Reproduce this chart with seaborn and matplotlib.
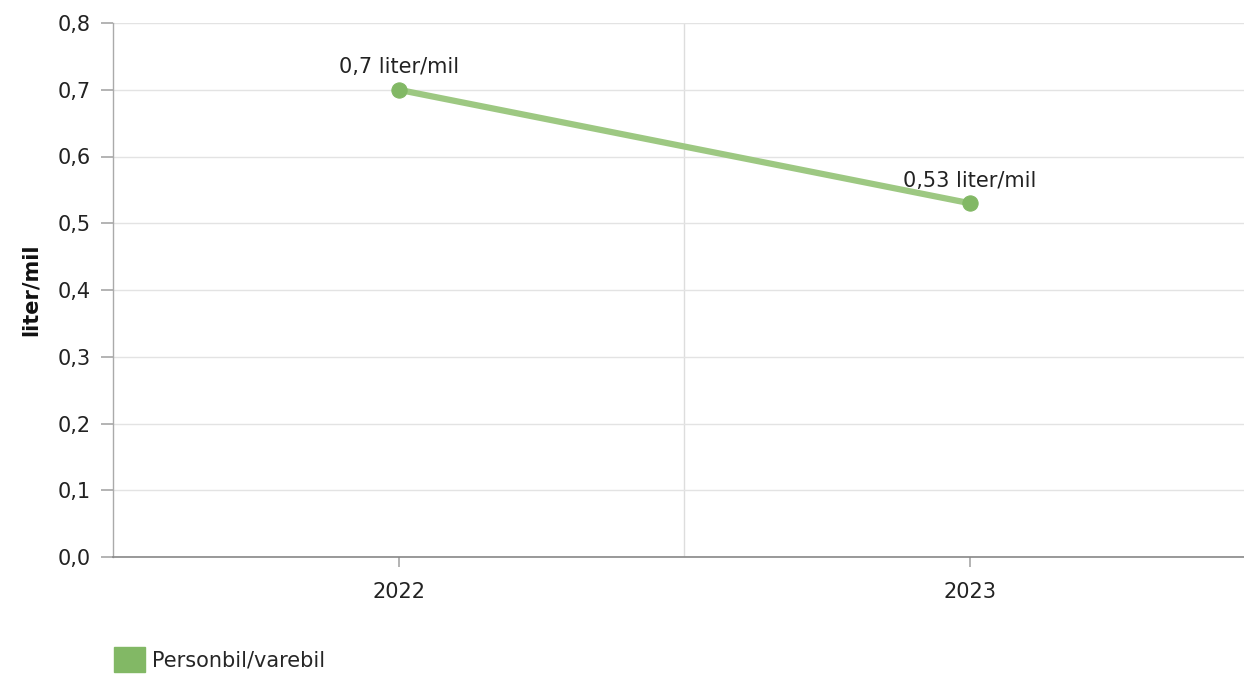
import matplotlib
matplotlib.use("Agg")
import matplotlib.pyplot as plt
import matplotlib.patches as mpatches
import seaborn as sns
import pandas as pd

years = ["2022", "2023"]
values = [0.70, 0.53]
labels = ["0,7 liter/mil", "0,53 liter/mil"]
series_name = "Personbil/varebil"
yticks = [0.0, 0.1, 0.2, 0.3, 0.4, 0.5, 0.6, 0.7, 0.8]

sns.set_theme(style="white")
plt.rcParams['font.family'] = ['DejaVu Sans']
plt.rcParams['font.sans-serif'] = ['DejaVu Sans']

df = pd.DataFrame({"year": years, "value": values, "x": list(range(len(years)))})

fig = plt.figure(figsize=(12.44, 6.75), dpi=100)
ax = fig.add_axes([113/1244, 1-557/675, 1131/1244, 534/675])

FS = 15
line_col = "#9dc882"
mark_col = "#82b865"
sns.lineplot(data=df, x="x", y="value", ax=ax, color=line_col, linewidth=4.5,
             marker="o", markersize=11, markerfacecolor=mark_col,
             markeredgecolor=mark_col, zorder=3)

for i, (v, t) in enumerate(zip(values, labels)):
    ax.annotate(t, (i, v), xytext=(0, 9), textcoords="offset points",
                ha="center", va="bottom", fontsize=FS, color="#222222",
                family="DejaVu Sans")

ax.set_xlim(-0.5, 1.48)
ax.set_ylim(0, 0.8)
ax.set_yticks(yticks)
ax.set_yticklabels([f"{t:.1f}".replace(".", ",") for t in yticks])
ax.set_xticks(range(len(years)))
ax.set_xticklabels(years)
ax.set_xticks([0.5], minor=True)

ax.grid(axis="y", color="#e3e3e3", linewidth=1)
ax.grid(axis="x", which="minor", color="#dddddd", linewidth=1)
ax.set_axisbelow(True)

for s in ["top", "right"]:
    ax.spines[s].set_visible(False)
ax.spines["left"].set_color("#aaaaaa")
ax.spines["bottom"].set_color("#888888")
ax.spines["left"].set_linewidth(1)
ax.spines["bottom"].set_linewidth(1.2)

ax.tick_params(axis="y", which="major", length=9, color="#aaaaaa", labelsize=FS,
               labelcolor="#222222", pad=7, left=True)
ax.tick_params(axis="x", which="major", length=7, color="#aaaaaa", labelsize=FS,
               labelcolor="#222222", pad=11, bottom=True)
ax.tick_params(axis="x", which="minor", length=0)
for lab in ax.get_xticklabels() + ax.get_yticklabels():
    lab.set_family("DejaVu Sans")

ax.set_xlabel("")
ax.set_ylabel("liter/mil", fontsize=FS, fontweight="bold", color="#111111",
              labelpad=12, family="DejaVu Sans")

handle = mpatches.Patch(color=mark_col, label=series_name)
fig.legend(handles=[handle], loc="lower left", bbox_to_anchor=(106/1244, -0.008),
           frameon=False, handlelength=1.45, handleheight=1.45,
           handletextpad=0.35, borderaxespad=0,
           prop={"family": "DejaVu Sans", "size": FS})

fig.savefig("out.png", dpi=100)
